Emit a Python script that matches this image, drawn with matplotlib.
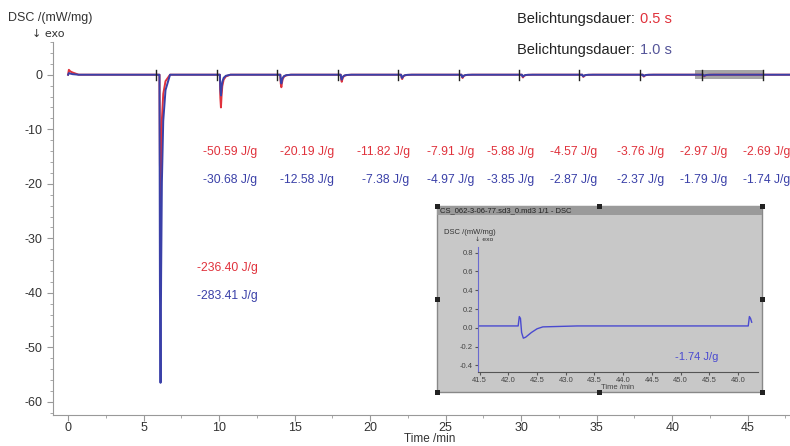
import matplotlib
matplotlib.use("Agg")
import matplotlib.pyplot as plt
import numpy as np
from matplotlib.patches import Rectangle

plt.rcParams['font.family'] = ['Liberation Sans', 'DejaVu Sans']
plt.rcParams['axes.unicode_minus'] = False

# ---------------- data ----------------
peak_times = [6, 10, 14, 18, 22, 26, 30, 34, 38, 42]
red_depths = [-23.5, -6.0, -2.3, -1.3, -0.8, -0.6, -0.5, -0.4, -0.35, -0.3]
blue_depths = [-56.5, -3.8, -1.6, -0.9, -0.6, -0.45, -0.35, -0.3, -0.25, -0.22]
# peak profile: time offset (min) and fraction of depth
profile_dt = [-0.05, 0.0, 0.03, 0.07, 0.11, 0.16, 0.25, 0.4, 0.7]
profile_fr = [0.0, 0.0, 0.7, 1.0, 0.65, 0.35, 0.15, 0.05, 0.0]
marker_times = [5.85, 9.85, 13.85, 17.85, 21.85, 25.85, 29.85, 33.85, 37.85, 42.0, 46.0]
start_t = [0.0, 0.05, 0.15, 0.3, 0.5, 0.7, 1.5]
start_red = [0.0, 0.9, 0.6, 0.4, 0.2, 0.0, 0.0]
start_blue = [0.0, 0.3, 0.2, 0.1, 0.05, 0.0, 0.0]
t_end = 47.8

red_labels = ["-50.59 J/g", "-20.19 J/g", "-11.82 J/g", "-7.91 J/g", "-5.88 J/g",
              "-4.57 J/g", "-3.76 J/g", "-2.97 J/g", "-2.69 J/g"]
blue_labels = ["-30.68 J/g", "-12.58 J/g", "-7.38 J/g", "-4.97 J/g", "-3.85 J/g",
               "-2.87 J/g", "-2.37 J/g", "-1.79 J/g", "-1.74 J/g"]
red_label_x = [8.94, 14.04, 19.14, 23.77, 27.75, 31.9, 36.36, 40.53, 44.7]
blue_label_x = [8.94, 14.04, 19.47, 23.77, 27.75, 31.9, 36.36, 40.53, 44.7]
big_red_label = "-236.40 J/g"
big_blue_label = "-283.41 J/g"

# inset trace
inset_t = [41.47, 42.17, 42.19, 42.21, 42.23, 42.26, 42.30, 42.40, 42.50, 42.60, 43.2, 46.18, 46.20, 46.22, 46.24]
inset_v = [0.02, 0.02, 0.12, 0.10, -0.05, -0.11, -0.10, -0.05, -0.01, 0.01, 0.02, 0.02, 0.12, 0.10, 0.06]
inset_label = "-1.74 J/g"

RED = "#e0323c"
BLUE = "#3a40a8"


def build(depths, st_vals):
    t = list(start_t)
    v = list(st_vals)
    for tp, d in zip(peak_times, depths):
        for dt, fr in zip(profile_dt, profile_fr):
            t.append(tp + 0.05 + dt)
            v.append(d * fr)
    t.append(t_end)
    v.append(0.0)
    return np.array(t), np.array(v)


W, H = 790, 446
fig = plt.figure(figsize=(W / 100, H / 100), dpi=100)


def px_axes(x0, y0, x1, y1):
    return fig.add_axes([x0 / W, 1 - y1 / H, (x1 - x0) / W, (y1 - y0) / H])


ax = px_axes(53, 42, 790, 415)
ax.set_zorder(0)
tr, vr = build(red_depths, start_red)
tb, vb = build(blue_depths, start_blue)
ax.plot(tr, vr, color=RED, lw=1.4)
ax.plot(tb, vb, color=BLUE, lw=1.4)
for mt in marker_times:
    ax.plot([mt, mt], [-0.9, 0.9], color="#222222", lw=1.0)
ax.add_patch(Rectangle((41.5, -0.8), 4.6, 1.6, color="#808080", alpha=0.7, lw=0))

ax.set_xlim(-1.0, 47.8)
ax.set_ylim(-62.4, 6.0)
ax.set_xticks(np.arange(0, 46, 5))
ax.set_xticks(np.arange(0, 48, 2.5), minor=True)
ax.set_yticks(np.arange(-60, 1, 10))
ax.set_yticks(np.arange(-62, 7, 2), minor=True)
for s in ["top", "right"]:
    ax.spines[s].set_visible(False)
for s in ["left", "bottom"]:
    ax.spines[s].set_color("#999999")
ax.tick_params(axis="both", which="both", colors="#999999", labelcolor="#333333",
               labelsize=9)
ax.tick_params(which="major", length=4)
ax.tick_params(which="minor", length=2.5)
ax.tick_params(axis="x", pad=1)
ax.set_xlabel("Time /min", fontsize=8.5, color="#333333")
ax.xaxis.set_label_coords((430 - 53) / (790 - 53), -(439 - 415) / (415 - 42))
ax.xaxis.label.set_va("center")

for lbl, x in zip(red_labels, red_label_x):
    ax.text(x, -14.1, lbl, color=RED, fontsize=8.7, va="center")
for lbl, x in zip(blue_labels, blue_label_x):
    ax.text(x, -19.3, lbl, color=BLUE, fontsize=8.7, va="center")
ax.text(8.54, -35.4, big_red_label, color=RED, fontsize=8.7, va="center")
ax.text(8.54, -40.55, big_blue_label, color=BLUE, fontsize=8.7, va="center")

fig.text(8 / W, 1 - 18 / H, "DSC /(mW/mg)", fontsize=9, color="#333333", va="center")
fig.text(32 / W, 1 - 34 / H, "\u2193 exo", fontsize=8, color="#333333", va="center",
         family=["DejaVu Sans"])

fig.text(517 / W, 1 - 19 / H, "Belichtungsdauer: ", fontsize=10.5, color="#222222", va="center")
fig.text(640 / W, 1 - 19 / H, "0.5 s", fontsize=10.5, color=RED, va="center")
fig.text(517 / W, 1 - 50 / H, "Belichtungsdauer: ", fontsize=10.5, color="#222222", va="center")
fig.text(640 / W, 1 - 50 / H, "1.0 s", fontsize=10.5, color="#555599", va="center")

# ---------------- inset ----------------
box = Rectangle((437 / W, 1 - 392 / H), (762 - 437) / W, (392 - 206) / H,
                transform=fig.transFigure, facecolor="#c8c8c8", edgecolor="#888888", lw=1,
                zorder=1)
fig.patches.append(box)
bar = Rectangle((437 / W, 1 - 215 / H), (762 - 437) / W, 9 / H,
                transform=fig.transFigure, facecolor="#9a9a9a", edgecolor="none", zorder=1)
fig.patches.append(bar)
fig.text(440 / W, 1 - 210.5 / H, "CS_062-3-06-77.sd3_0.md3 1/1 - DSC", fontsize=5.5,
         color="#222222", va="center")
for hx, hy in [(437, 206), (762, 206), (437, 299), (762, 299), (437, 392), (599, 392), (762, 392), (599, 206)]:
    fig.patches.append(Rectangle(((hx - 2.5) / W, 1 - (hy + 2.5) / H), 5 / W, 5 / H,
                                 transform=fig.transFigure, facecolor="#222222",
                                 edgecolor="none", zorder=1))

ia = px_axes(478, 247, 758, 372)
ia.set_zorder(3)
ia.set_facecolor("none")
ia.plot(inset_t, inset_v, color="#4a4ad0", lw=1.0)
ia.set_xlim(41.47, 46.35)
ia.set_ylim(-0.47, 0.86)
ia.set_xticks(np.arange(41.5, 46.01, 0.5))
ia.set_xticklabels(["41.5", "42.0", "42.5", "43.0", "43.5", "44.0", "44.5", "45.0", "45.5", "46.0"])
ia.set_yticks(np.arange(-0.4, 0.81, 0.2))
ia.set_yticklabels(["-0.4", "-0.2", "0.0", "0.2", "0.4", "0.6", "0.8"])
for s in ["top", "right"]:
    ia.spines[s].set_visible(False)
ia.spines["left"].set_color("#6a6ad0")
ia.spines["bottom"].set_color("#555555")
ia.tick_params(axis="both", labelsize=5.5, labelcolor="#444444", colors="#555555",
               length=2, pad=1.5)
ia.set_xlabel("Time /min", fontsize=5.5, color="#444444", labelpad=0)
ia.text(44.9, -0.31, inset_label, color="#4a4ad0", fontsize=8, va="center")
fig.text(444 / W, 1 - 233 / H, "DSC /(mW/mg)", fontsize=5.5, color="#333333", va="center",
         zorder=4)
fig.text(475 / W, 1 - 239 / H, "\u2193 exo", fontsize=4.5, color="#333333", va="center",
         family=["DejaVu Sans"], zorder=4)

fig.savefig("out.png", dpi=100)
